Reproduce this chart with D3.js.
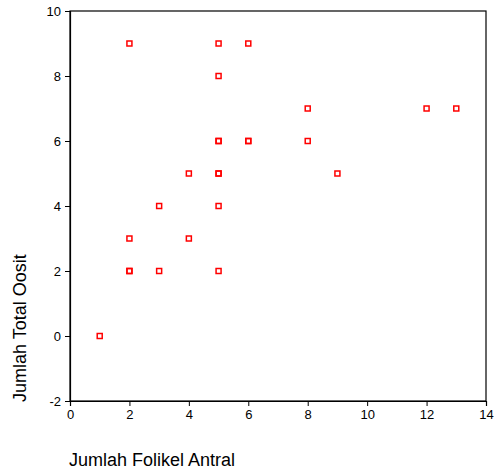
<!DOCTYPE html>
<html>
<head>
<meta charset="utf-8">
<script src="https://cdn.jsdelivr.net/npm/d3@7"></script>
<style>
  body { margin: 0; background: #fff; }
  svg { display: block; }
  text { font-family: "Liberation Sans", Arial, sans-serif; fill: #000; }
</style>
</head>
<body>
<svg id="chart" width="495" height="472"></svg>
<script>
// Data: Jumlah Folikel Antral (x) vs Jumlah Total Oosit (y)
const folikel = [1, 2, 2, 2, 2, 3, 3, 4, 4, 5, 5, 5, 5, 5, 5, 5, 5, 6, 6, 6, 8, 8, 9, 12, 13];
const oosit   = [0, 9, 3, 2, 2, 4, 2, 5, 3, 9, 8, 6, 6, 5, 5, 4, 2, 9, 6, 6, 7, 6, 5, 7, 7];
const xTicks = [0, 2, 4, 6, 8, 10, 12, 14];
const yTicks = [-2, 0, 2, 4, 6, 8, 10];
const xTitle = "Jumlah Folikel Antral";
const yTitle = "Jumlah Total Oosit";

const svg = d3.select("#chart");
const mLeft = 70, mRight = 486, mTop = 11, mBottom = 401;

const x = d3.scaleLinear().domain([0, 14]).range([mLeft, mRight]);
const y = d3.scaleLinear().domain([-2, 10]).range([mBottom, mTop]);
const fmt = d => String(d);

// frame
svg.append("rect")
  .attr("x", mLeft).attr("y", mTop)
  .attr("width", mRight - mLeft).attr("height", mBottom - mTop)
  .attr("fill", "none").attr("stroke", "#000").attr("stroke-width", 1.2);

const xAxis = svg.append("g")
  .attr("transform", `translate(0,${mBottom})`)
  .call(d3.axisBottom(x).tickValues(xTicks).tickSize(5).tickPadding(4).tickFormat(fmt));
const yAxis = svg.append("g")
  .attr("transform", `translate(${mLeft},0)`)
  .call(d3.axisLeft(y).tickValues(yTicks).tickSize(5).tickPadding(4).tickFormat(fmt));

[xAxis, yAxis].forEach(g => {
  g.select(".domain").attr("stroke", "#000").attr("stroke-width", 1.2);
  g.selectAll(".tick line").attr("stroke", "#000").attr("stroke-width", 1);
  g.selectAll(".tick text")
    .attr("font-family", "Liberation Sans, Arial, sans-serif")
    .attr("font-size", 13).attr("fill", "#000");
});

// points
const pts = folikel.map((d, i) => ({ x: d, y: oosit[i] }));
const s = 5;
svg.append("g").selectAll("rect")
  .data(pts).join("rect")
  .attr("x", d => x(d.x) - s / 2)
  .attr("y", d => y(d.y) - s / 2)
  .attr("width", s).attr("height", s)
  .attr("fill", "none")
  .attr("stroke", "#ff0000")
  .attr("stroke-width", 1.5);

// titles
svg.append("text")
  .attr("x", 69).attr("y", 466)
  .attr("font-size", 18)
  .text(xTitle);

svg.append("text")
  .attr("transform", "translate(26,402) rotate(-90)")
  .attr("font-size", 18)
  .text(yTitle);
</script>
</body>
</html>
